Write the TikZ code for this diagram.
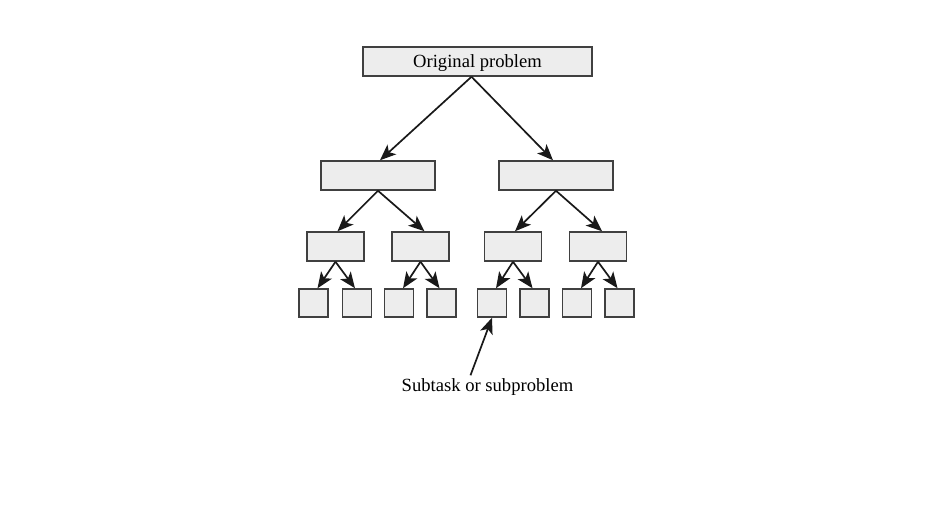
\documentclass[tikz,border=0pt]{standalone}
\usepackage{fontspec}
\setmainfont{Liberation Serif}
\usetikzlibrary{arrows.meta}
\begin{document}
\begin{tikzpicture}[x=1pt,y=-1pt,
  boxnode/.style={draw=black!75,line width=1.5pt,fill=black!7,inner sep=0pt,minimum height=29pt},
  leafnode/.style={boxnode,minimum width=29pt,minimum height=28pt},
  arr/.style={line width=1.7pt,black!90,-{Stealth[length=16pt,width=13pt,inset=4pt]}},
  lbl/.style={font=\fontsize{18.6pt}{20pt}\selectfont,inner sep=0pt,text height=13pt,text depth=0pt}]
\useasboundingbox[fill=white] (0,0) rectangle (952,524);
\node[boxnode,minimum width=229pt,lbl,draw=black!75,line width=1.5pt,fill=black!7,minimum height=29pt] (top) at (477.5,61.5) {Original problem};
\node[boxnode,minimum width=114pt] (L) at (378,175.5) {};
\node[boxnode,minimum width=114pt] (R) at (556,175.5) {};
\node[boxnode,minimum width=57pt] (m1) at (335.5,246.5) {};
\node[boxnode,minimum width=57pt] (m2) at (420.5,246.5) {};
\node[boxnode,minimum width=57pt] (m3) at (513,246.5) {};
\node[boxnode,minimum width=57pt] (m4) at (598,246.5) {};
\foreach \i/\x in {1/313.5,2/357,3/399,4/441.5,5/492,6/534.5,7/577,8/619.5}
  \node[leafnode] (f\i) at (\x,303) {};
\draw[arr] ([xshift=-6pt]top.south) -- ([xshift=2pt]L.north);
\draw[arr] ([xshift=-6pt]top.south) -- ([xshift=-3pt]R.north);
\draw[arr] (L.south) -- ([xshift=2pt]m1.north);
\draw[arr] (L.south) -- ([xshift=4pt]m2.north);
\draw[arr] (R.south) -- ([xshift=2pt]m3.north);
\draw[arr] (R.south) -- ([xshift=4pt]m4.north);
\draw[arr] (m1.south) -- ([xshift=4pt]f1.north);
\draw[arr] (m1.south) -- ([xshift=-2pt]f2.north);
\draw[arr] (m2.south) -- ([xshift=4pt]f3.north);
\draw[arr] (m2.south) -- ([xshift=-2pt]f4.north);
\draw[arr] (m3.south) -- ([xshift=4pt]f5.north);
\draw[arr] (m3.south) -- ([xshift=-2pt]f6.north);
\draw[arr] (m4.south) -- ([xshift=4pt]f7.north);
\draw[arr] (m4.south) -- ([xshift=-2pt]f8.north);
\node[lbl] (sub) at (487.5,385) {Subtask or subproblem};
\draw[arr] ([xshift=-17pt,yshift=3pt]sub.north) -- (f5.south);
\end{tikzpicture}
\end{document}
